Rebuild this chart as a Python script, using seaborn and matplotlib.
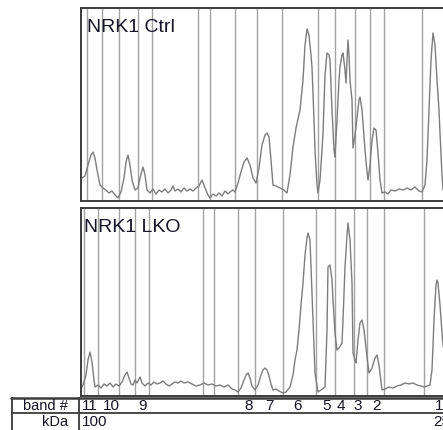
import matplotlib
matplotlib.use("Agg")
import matplotlib.pyplot as plt
import seaborn as sns
import pandas as pd

# STYLE SETTINGS
sns.set_style("white")
plt.rcParams["font.family"] = ["Liberation Sans", "DejaVu Sans"]

# DENSITOMETRY TRACES (lane position, intensity)
ctrl_pos = [
    1, 4, 7, 10, 12, 14, 16, 19, 22, 25,
    28, 31, 34, 37, 40, 43, 45, 47, 49, 51,
    54, 57, 59, 62, 64, 66, 69, 72, 75, 78,
    81, 84, 87, 90, 92, 94, 97, 100, 103, 106,
    109, 112, 115, 118, 121, 124, 127, 129, 132, 135,
    138, 141, 144, 147, 149, 152, 154, 157, 160, 163,
    166, 169, 172, 175, 178, 181, 184, 186, 188, 190,
    192, 195, 199, 203, 206, 209, 212, 215, 219, 222,
    224, 226, 228, 230, 231, 233, 234, 236, 237, 239,
    241, 242, 244, 246, 248, 249, 251, 253, 254, 256,
    258, 259, 261, 262, 264, 265, 266, 267, 268, 269,
    271, 272, 274, 276, 278, 279, 281, 284, 286, 287,
    289, 291, 293, 295, 297, 299, 301, 304, 307, 310,
    314, 318, 322, 326, 330, 334, 338, 341, 344, 346,
    348, 350, 352, 354, 356, 358, 359, 361, 362, 366,
]
ctrl_int = [
    23, 25, 36, 46, 49, 43, 31, 16, 13, 11,
    8, 10, 6, 3, 9, 23, 39, 46, 36, 21,
    11, 13, 23, 34, 26, 11, 8, 12, 7, 11,
    9, 12, 8, 11, 15, 10, 12, 9, 13, 10,
    12, 10, 13, 15, 21, 13, 6, 3, 7, 5,
    8, 5, 10, 7, 9, 11, 9, 18, 29, 39,
    43, 36, 23, 18, 33, 56, 66, 68, 64, 41,
    16, 15, 13, 11, 8, 26, 54, 73, 91, 121,
    156, 172, 166, 146, 134, 81, 51, 16, 8, 21,
    51, 68, 126, 148, 146, 141, 91, 51, 44, 81,
    121, 134, 146, 148, 131, 118, 141, 161, 146, 121,
    101, 53, 66, 84, 101, 104, 91, 51, 29, 21,
    36, 61, 73, 71, 48, 21, 8, 9, 7, 11,
    10, 12, 11, 13, 11, 14, 10, 9, 16, 41,
    91, 141, 168, 156, 121, 91, 68, 26, 11, 9,
]

lko_pos = [
    -1, 2, 5, 7, 9, 11, 13, 14, 17, 20,
    23, 26, 29, 32, 35, 38, 41, 44, 46, 48,
    50, 52, 54, 56, 59, 61, 64, 67, 70, 73,
    76, 79, 82, 85, 88, 91, 94, 97, 100, 103,
    107, 111, 115, 119, 123, 127, 131, 135, 139, 143,
    147, 151, 154, 157, 160, 163, 165, 167, 169, 171,
    174, 177, 180, 182, 184, 186, 188, 190, 192, 195,
    198, 202, 205, 209, 212, 214, 216, 218, 220, 222,
    224, 226, 227, 229, 230, 232, 234, 237, 240, 244,
    246, 247, 249, 251, 252, 254, 256, 258, 261, 262,
    264, 266, 267, 269, 271, 272, 274, 275, 277, 279,
    281, 283, 286, 288, 291, 294, 296, 298, 301, 304,
    308, 312, 316, 320, 324, 328, 332, 336, 340, 343,
    346, 349, 351, 353, 355, 356, 357, 359, 361, 362,
    366,
]
lko_int = [
    6, 11, 21, 36, 44, 34, 16, 9, 11, 8,
    12, 10, 13, 9, 12, 10, 14, 21, 24, 18,
    12, 11, 16, 13, 19, 13, 10, 13, 11, 14,
    12, 13, 15, 12, 10, 12, 14, 13, 15, 13,
    14, 12, 10, 11, 13, 11, 12, 10, 11, 9,
    11, 7, 6, 4, 8, 16, 21, 23, 18, 10,
    6, 11, 21, 26, 28, 26, 20, 12, 6, 7,
    5, 3, 4, 9, 21, 36, 46, 66, 91, 113,
    141, 158, 163, 156, 129, 76, 23, 4, 6, 9,
    66, 129, 131, 116, 96, 63, 46, 48, 53, 76,
    129, 161, 173, 156, 113, 43, 36, 33, 56, 73,
    76, 66, 39, 23, 28, 38, 41, 31, 6, 7,
    9, 8, 10, 11, 13, 12, 13, 11, 10, 9,
    10, 11, 26, 76, 111, 116, 113, 91, 63, 51,
    30,
]

# BAND BOUNDARY LINES
ctrl_lines = [6, 21, 38, 57, 71, 117, 129, 154, 176, 201, 237, 254, 274, 289, 303, 341]
lko_lines = [3, 17, 38, 54, 68, 122, 133, 157, 174, 202, 235, 254, 273, 286, 303, 343]

# TABLE LABELS
band_labels = ["11", "10", "9", "8", "7", "6", "5", "4", "3", "2", "1"]
band_label_pos = [1, 22, 57, 163, 184, 212, 241, 256, 272, 291, 354]
kda_labels = ["100", "25"]
kda_label_pos = [1, 352]

W, H = 443, 430
fig = plt.figure(figsize=(W / 100, H / 100), dpi=100)

x_left = 81
x_right = 520

def panel(top, bottom):
    return fig.add_axes([x_left / W, 1 - bottom / H,
                         (x_right - x_left) / W, (bottom - top) / H])

ax_top = panel(8, 201)
ax_bot = panel(208, 396)

lanes = [
    (ax_top, ctrl_pos, ctrl_int, ctrl_lines, "NRK1 Ctrl", 6, 193),
    (ax_bot, lko_pos, lko_int, lko_lines, "NRK1 LKO", 3, 188),
]

for ax, pos, inten, lines, name, dx, ymax in lanes:
    trace = pd.DataFrame({"pos": pos, "intensity": inten})

    for xl in lines:
        ax.axvline(xl, color="#a2a2a2", linewidth=1, zorder=1)

    sns.lineplot(
        data=trace,
        x="pos",
        y="intensity",
        sort=False,
        estimator=None,
        color="#7d7d7d",
        linewidth=1,
        ax=ax,
        zorder=2
    )

    ax.set_xlim(0, x_right - x_left)
    ax.set_ylim(0, ymax)
    ax.set_xticks([])
    ax.set_yticks([])
    ax.set_xlabel("")
    ax.set_ylabel("")
    for sp in ax.spines.values():
        sp.set_color("#3c3c3c")
        sp.set_linewidth(1.4)

    ax.text(dx / (x_right - x_left), 1 - 19.5 / ymax, name,
            transform=ax.transAxes, ha="left", va="center",
            fontsize=14, color="#151525")

# TABLE
ax_tab = fig.add_axes([11 / W, 0, (x_right - 11) / W, 33 / H])
ax_tab.set_xlim(11 - x_left, x_right - x_left)
ax_tab.set_ylim(33, 0)
ax_tab.axis("off")

ax_tab.axhline(0.5, color="#3c3c3c", linewidth=1.8, clip_on=False)
ax_tab.axhline(15.5, color="#3c3c3c", linewidth=1.3)
ax_tab.axvline(11 - x_left + 0.5, color="#3c3c3c", linewidth=1.3)
ax_tab.axvline(-2, color="#3c3c3c", linewidth=1.3)

ax_tab.text(-13, 8.5, "band #", ha="right", va="center", fontsize=10.5, color="#151525")
ax_tab.text(-13, 24.5, "kDa", ha="right", va="center", fontsize=10.5, color="#151525")

for lab, p in zip(band_labels, band_label_pos):
    ax_tab.text(p, 8.5, lab, ha="left", va="center", fontsize=11, color="#151525")

for lab, p in zip(kda_labels, kda_label_pos):
    ax_tab.text(p, 24.5, lab, ha="left", va="center", fontsize=11, color="#151525")

plt.savefig("out.png", dpi=100)
plt.close()
